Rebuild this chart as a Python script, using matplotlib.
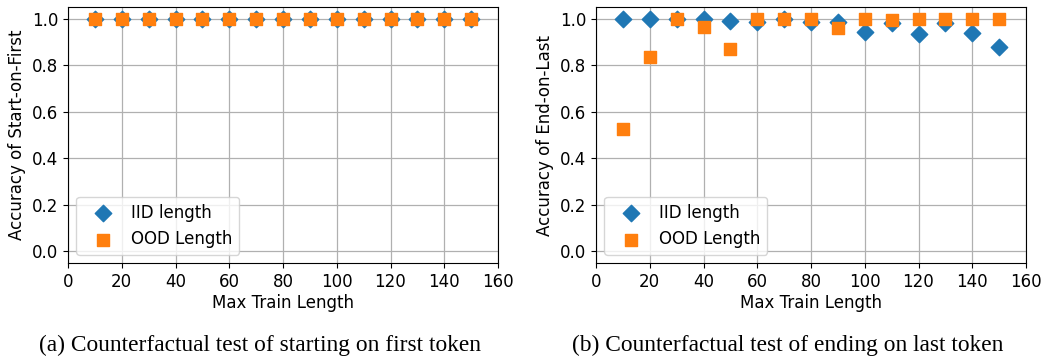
import matplotlib.pyplot as plt

max_len = [10, 20, 30, 40, 50, 60, 70, 80, 90, 100, 110, 120, 130, 140, 150]

# start-on-first: everything at 1.0
sof_iid = [1.0] * 15
sof_ood = [1.0] * 15

# end-on-last
eol_iid = [1.0, 1.0, 1.0, 1.0, 0.99, 0.986, 1.0, 0.986, 0.986, 0.944, 0.983, 0.933, 0.98, 0.939, 0.876]
eol_ood = [0.526, 0.837, 1.0, 0.966, 0.869, 1.0, 1.0, 0.997, 0.961, 0.997, 0.996, 1.0, 0.997, 1.0, 1.0]

ylabels = ['Accuracy of Start-on-First', 'Accuracy of End-on-Last']
captions = ['(a) Counterfactual test of starting on first token',
            '(b) Counterfactual test of ending on last token']
caption_x = [260/1042, 788/1042]

plt.rcParams['font.size'] = 12
fig = plt.figure(figsize=(10.42, 3.56), dpi=100)
ax1 = fig.add_axes([68/1042, 1 - 263/356, 430/1042, 256/356])
ax2 = fig.add_axes([596/1042, 1 - 263/356, 430/1042, 256/356])

for ax, iid, ood, ylab, cap, cx in zip([ax1, ax2], [sof_iid, eol_iid], [sof_ood, eol_ood], ylabels, captions, caption_x):
  ax.scatter(max_len, iid, marker='D', s=70, color='#1f77b4', label='IID length', zorder=3)
  ax.scatter(max_len, ood, marker='s', s=70, color='#ff7f0e', label='OOD Length', zorder=3)
  ax.set_xlim(0, 160)
  ax.set_ylim(-0.05, 1.05)
  ax.set_xticks(range(0, 161, 20))
  ax.set_yticks([0.0, 0.2, 0.4, 0.6, 0.8, 1.0])
  ax.grid(True, color='#b0b0b0', linewidth=0.9)
  ax.set_axisbelow(True)
  ax.set_xlabel('Max Train Length', labelpad=2)
  ax.set_ylabel(ylab)
  ax.legend(loc='lower left', handlelength=2.4, handletextpad=0.5, borderaxespad=0.5)
  fig.text(cx, 1 - 335/356, cap, ha='center', va='top',
           family='Liberation Serif', fontsize=16.8)

fig.savefig('out.png', dpi=100)
